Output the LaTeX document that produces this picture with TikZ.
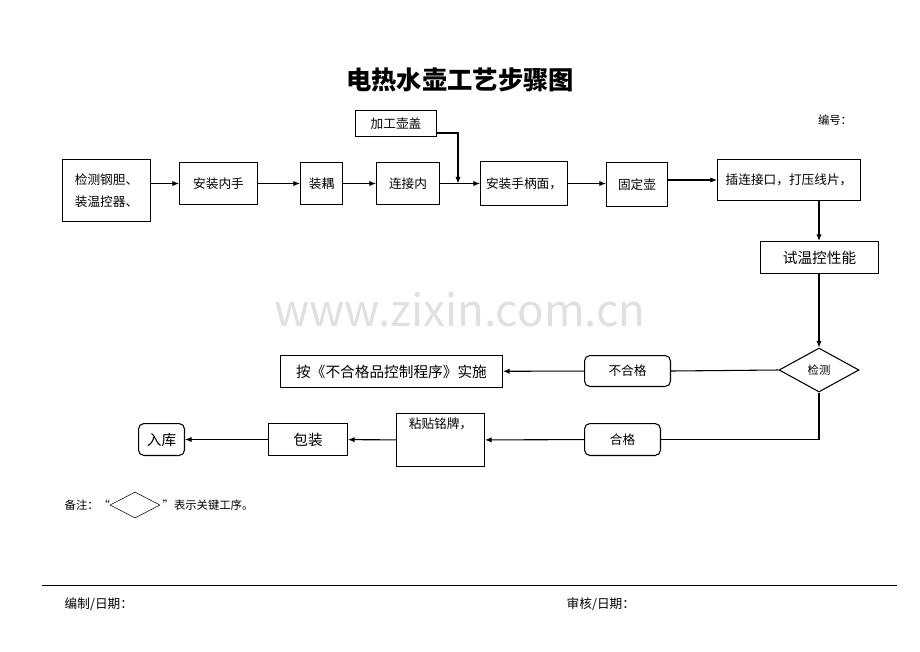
\documentclass[tikz,border=0pt]{standalone}
\usepackage{fontspec}
\setmainfont{Noto Sans CJK SC}
\usetikzlibrary{shapes.geometric,arrows.meta}
\begin{document}
\begin{tikzpicture}[x=0.75pt,y=-0.75pt,
  bx/.style={draw,thick,font=\fontsize{9.5}{11}\selectfont,align=center},
  rb/.style={bx,rounded corners=4pt},
  ar/.style={thick,-{Latex[length=5pt,width=4pt]}},
  ln/.style={thick}]
\useasboundingbox (0,0) rectangle (920,651);
\node[text=black!12,font=\fontsize{33}{36}\selectfont] (wm) at (460,310) {www.zixin.com.cn};
\node[font=\bfseries\fontsize{19}{22}\selectfont] (title) at (460,80) {电热水壶工艺步骤图};
\node[font=\fontsize{8.5}{10}\selectfont] (num) at (835,120) {编号：};
\newcommand{\bxat}[6]{\node[#1,minimum width=#4*0.75pt-0.8pt,minimum height=#5*0.75pt-0.8pt] (#2) at (#3) {#6};}
\bxat{bx}{lid}{396,123.5}{82}{27}{加工壶盖}
\bxat{bx}{b1}{106.5,190.5}{89}{63}{检测钢胆、\\[6pt]装温控器、}
\bxat{bx}{b2}{218.5,183.5}{79}{43}{安装内手}
\bxat{bx}{b3}{321.5,183.5}{43}{43}{装耦}
\bxat{bx}{b4}{408,183.5}{64}{43}{连接内}
\bxat{bx}{b5}{524,183.5}{88}{45}{安装手柄面，}
\bxat{bx}{b6}{637,184.5}{62}{45}{固定壶}
\bxat{bx}{b7}{789,180}{144}{42}{插连接口，打压线片，}
\bxat{bx}{b8}{819.5,257.5}{119}{33}{\fontsize{11}{13}\selectfont 试温控性能}
\node[draw,thick,diamond,aspect=1.8,minimum width=80*0.75pt,minimum height=44*0.75pt,inner sep=0pt,font=\fontsize{8.5}{10}\selectfont] (dia) at (819,370) {检测};
\bxat{rb}{ng}{627.5,371}{87}{32}{不合格}
\bxat{bx}{proc}{391.5,371.5}{223}{33}{\fontsize{11}{13}\selectfont 按《不合格品控制程序》实施}
\bxat{rb}{ok}{622.5,439.5}{77}{33}{合格}
\bxat{bx}{lab}{440.5,440}{89}{48}{粘贴铭牌，\\[14pt]\phantom{x}}
\bxat{bx}{pack}{308,439.5}{80}{33}{\fontsize{11}{13}\selectfont 包装}
\bxat{rb}{store}{161.5,439.5}{47}{33}{\fontsize{11}{13}\selectfont 入库}
\coordinate (j) at (458,183.5);
\draw[ar] (lid.east |- 0,133) -| (j);
\draw[ar] (b1.east |- b2) -- (b2);
\draw[ar] (b2) -- (b3);
\draw[ar] (b3) -- (b4);
\draw[ar] (b4) -- (b5);
\draw[ar] (b5) -- (b6.west |- b5);
\draw[ar] (b6.east |- 0,180) -- (b7);
\draw[ar] (b7.south -| 819,0) -- (b8.north -| 819,0);
\draw[ar] (b8.south -| 819,0) -- (dia.north);
\draw[ln] (dia.west) -- (ng.east);
\draw[ar] (ng) -- (proc);
\draw[ln] (dia.south) |- (ok.east);
\draw[ar] (ok) -- (lab);
\draw[ar] (lab) -- (pack);
\draw[ar] (pack) -- (store);
\node[font=\fontsize{8.5}{10}\selectfont,anchor=west] (note) at (60,505) {备注：“};
\node[draw,diamond,aspect=2,minimum width=50*0.75pt,minimum height=26*0.75pt,inner sep=0pt] (nd) at (135,505) {};
\node[font=\fontsize{8.5}{10}\selectfont,anchor=west] (note2) at (158,505) {”表示关键工序。};
\draw (42,585) -- (897,585);
\node[font=\fontsize{9.5}{11}\selectfont,anchor=west] (s1) at (60,604) {编制/日期：};
\node[font=\fontsize{9.5}{11}\selectfont,anchor=west] (s2) at (562,604) {审核/日期：};
\end{tikzpicture}
\end{document}
